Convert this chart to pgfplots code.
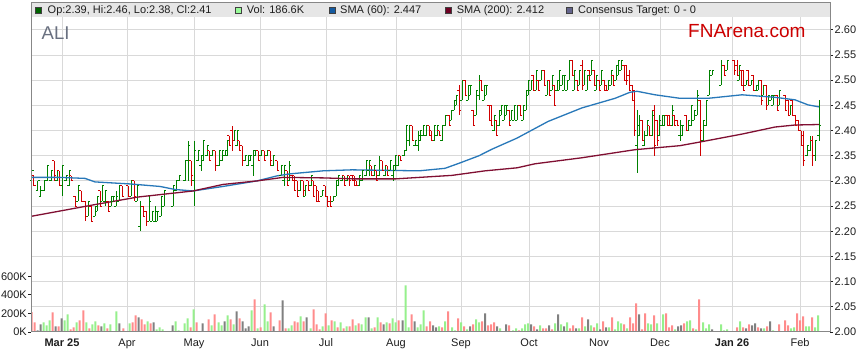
\documentclass[border=0pt]{standalone}
\usepackage{pgfplots}
\usepackage{pgfplotstable}
\pgfplotsset{compat=1.18}
\usepackage{fontspec}
\setmainfont{Liberation Sans}
\definecolor{upG}{RGB}{0,128,0}
\definecolor{dnR}{RGB}{208,0,0}
\definecolor{volG}{RGB}{150,240,140}
\definecolor{volR}{RGB}{255,140,140}
\definecolor{volK}{RGB}{128,128,128}
\definecolor{smaA}{RGB}{40,120,185}
\definecolor{smaB}{RGB}{128,15,50}
\definecolor{gridc}{RGB}{217,217,217}
\definecolor{framec}{RGB}{135,135,135}
\definecolor{bandc}{RGB}{230,230,230}
\definecolor{aliC}{RGB}{105,112,128}
\definecolor{fnred}{RGB}{204,0,0}
\definecolor{txtc}{RGB}{30,30,30}

\pgfdeclareplotmark{ohlcopen}{%
  \pgfpathmoveto{\pgfqpoint{-2pt}{0pt}}%
  \pgfpathlineto{\pgfqpoint{0pt}{0pt}}%
  \pgfusepathqstroke}
\pgfdeclareplotmark{ohlcclose}{%
  \pgfpathmoveto{\pgfqpoint{0pt}{0pt}}%
  \pgfpathlineto{\pgfqpoint{2pt}{0pt}}%
  \pgfusepathqstroke}

\pgfplotstableread{
x o h l c
32 2.30 2.34 2.29 2.32
38 2.28 2.30 2.28 2.30
41 2.27 2.29 2.27 2.28
44 2.28 2.30 2.28 2.30
47 2.30 2.33 2.30 2.33
51 2.30 2.32 2.30 2.32
57 2.30 2.32 2.30 2.32
62 2.29 2.33 2.27 2.33
66 2.30 2.31 2.30 2.31
69 2.29 2.32 2.29 2.32
78 2.26 2.29 2.26 2.29
88 2.23 2.26 2.23 2.26
95 2.23 2.25 2.23 2.25
97 2.24 2.27 2.24 2.27
102 2.26 2.29 2.26 2.29
105 2.26 2.28 2.25 2.28
111 2.25 2.27 2.25 2.27
113 2.26 2.27 2.26 2.27
116 2.25 2.28 2.25 2.27
119 2.26 2.29 2.26 2.29
131 2.27 2.30 2.27 2.30
137 2.26 2.29 2.26 2.29
140 2.21 2.26 2.20 2.25
149 2.22 2.27 2.22 2.26
152 2.22 2.24 2.22 2.24
155 2.22 2.25 2.22 2.24
157 2.22 2.24 2.22 2.24
161 2.23 2.27 2.23 2.27
164 2.25 2.28 2.25 2.28
173 2.25 2.29 2.25 2.29
176 2.28 2.30 2.28 2.30
179 2.30 2.31 2.30 2.31
185 2.30 2.34 2.30 2.34
188 2.34 2.38 2.30 2.37
194 2.30 2.38 2.25 2.36
198 2.34 2.36 2.34 2.36
201 2.33 2.35 2.32 2.35
203 2.34 2.38 2.34 2.38
207 2.35 2.37 2.35 2.37
212 2.35 2.36 2.35 2.36
219 2.33 2.36 2.33 2.36
222 2.34 2.36 2.34 2.36
225 2.35 2.36 2.35 2.36
227 2.35 2.38 2.35 2.38
234 2.38 2.40 2.38 2.40
237 2.37 2.40 2.37 2.40
245 2.34 2.35 2.34 2.35
248 2.33 2.35 2.33 2.35
250 2.34 2.35 2.34 2.35
253 2.33 2.36 2.31 2.36
255 2.35 2.36 2.35 2.36
261 2.35 2.36 2.35 2.36
267 2.35 2.36 2.35 2.36
273 2.33 2.35 2.33 2.35
281 2.31 2.33 2.31 2.33
284 2.30 2.33 2.29 2.33
289 2.30 2.34 2.30 2.33
300 2.28 2.30 2.28 2.30
305 2.27 2.29 2.27 2.29
311 2.29 2.31 2.29 2.31
322 2.27 2.28 2.27 2.28
333 2.26 2.27 2.26 2.27
336 2.27 2.30 2.27 2.30
338 2.29 2.31 2.29 2.31
342 2.30 2.31 2.30 2.31
347 2.30 2.31 2.30 2.31
359 2.29 2.31 2.29 2.31
362 2.30 2.32 2.30 2.32
366 2.31 2.34 2.31 2.34
369 2.32 2.34 2.31 2.34
374 2.31 2.33 2.31 2.33
379 2.31 2.35 2.31 2.34
385 2.31 2.33 2.31 2.33
390 2.32 2.34 2.32 2.34
393 2.31 2.33 2.30 2.33
395 2.32 2.35 2.32 2.35
398 2.33 2.35 2.33 2.35
404 2.35 2.36 2.35 2.36
406 2.36 2.41 2.36 2.41
409 2.38 2.41 2.37 2.41
415 2.37 2.38 2.37 2.38
418 2.37 2.40 2.36 2.39
420 2.38 2.40 2.38 2.40
423 2.39 2.41 2.39 2.41
426 2.39 2.41 2.39 2.41
434 2.38 2.41 2.38 2.41
437 2.39 2.41 2.39 2.41
442 2.38 2.41 2.38 2.41
445 2.41 2.43 2.41 2.43
451 2.42 2.44 2.42 2.44
454 2.44 2.46 2.44 2.46
456 2.45 2.47 2.45 2.47
462 2.46 2.50 2.46 2.50
468 2.46 2.49 2.46 2.49
470 2.47 2.49 2.47 2.49
476 2.43 2.48 2.43 2.48
479 2.47 2.51 2.46 2.50
484 2.46 2.49 2.46 2.49
486 2.47 2.49 2.47 2.49
494 2.40 2.43 2.40 2.43
499 2.41 2.44 2.41 2.44
501 2.43 2.45 2.43 2.45
504 2.42 2.45 2.42 2.45
506 2.43 2.45 2.43 2.45
511 2.42 2.44 2.42 2.44
514 2.42 2.45 2.42 2.45
517 2.42 2.45 2.42 2.45
523 2.42 2.45 2.42 2.45
526 2.44 2.48 2.44 2.48
528 2.47 2.50 2.47 2.50
531 2.48 2.50 2.48 2.50
536 2.48 2.52 2.48 2.52
541 2.50 2.52 2.50 2.52
547 2.47 2.50 2.47 2.50
552 2.48 2.51 2.48 2.51
557 2.48 2.50 2.48 2.50
559 2.48 2.52 2.48 2.52
562 2.49 2.51 2.49 2.51
564 2.48 2.51 2.48 2.51
567 2.48 2.50 2.48 2.50
569 2.50 2.54 2.50 2.54
574 2.48 2.52 2.48 2.52
579 2.49 2.52 2.49 2.52
584 2.49 2.52 2.49 2.52
587 2.48 2.51 2.48 2.51
591 2.51 2.54 2.51 2.54
596 2.48 2.51 2.48 2.51
601 2.49 2.52 2.49 2.52
608 2.48 2.50 2.48 2.50
611 2.49 2.52 2.49 2.52
616 2.50 2.53 2.50 2.53
618 2.51 2.54 2.51 2.54
621 2.52 2.54 2.52 2.54
637 2.37 2.44 2.315 2.41
639 2.39 2.43 2.39 2.42
644 2.37 2.40 2.37 2.39
647 2.39 2.42 2.39 2.42
652 2.39 2.44 2.39 2.43
659 2.39 2.43 2.39 2.42
662 2.41 2.43 2.41 2.43
664 2.41 2.43 2.41 2.43
672 2.41 2.45 2.41 2.44
680 2.39 2.42 2.38 2.41
682 2.39 2.41 2.39 2.41
688 2.40 2.42 2.40 2.42
691 2.41 2.45 2.41 2.45
694 2.42 2.44 2.42 2.44
697 2.43 2.48 2.43 2.47
703 2.38 2.42 2.38 2.42
706 2.41 2.46 2.41 2.46
709 2.47 2.52 2.47 2.52
712 2.51 2.52 2.51 2.52
721 2.49 2.54 2.49 2.53
727 2.52 2.54 2.52 2.54
739 2.50 2.53 2.50 2.53
746 2.49 2.50 2.49 2.50
751 2.49 2.50 2.49 2.50
756 2.48 2.49 2.48 2.49
758 2.48 2.50 2.48 2.50
763 2.47 2.49 2.47 2.49
768 2.45 2.47 2.45 2.47
771 2.46 2.47 2.46 2.47
773 2.45 2.47 2.45 2.47
779 2.45 2.48 2.45 2.48
790 2.43 2.45 2.43 2.45
807 2.35 2.37 2.35 2.37
810 2.36 2.39 2.36 2.38
815 2.35 2.38 2.34 2.38
819 2.39 2.46 2.38 2.41
}\upbars

\pgfplotstableread{
x o h l c
34 2.31 2.31 2.29 2.29
54 2.34 2.34 2.30 2.31
59 2.32 2.32 2.29 2.29
71 2.31 2.31 2.30 2.30
75 2.27 2.27 2.25 2.25
81 2.28 2.28 2.26 2.26
85 2.26 2.26 2.22 2.23
91 2.25 2.25 2.22 2.22
100 2.28 2.28 2.25 2.25
108 2.26 2.26 2.24 2.24
122 2.29 2.29 2.27 2.27
128 2.29 2.29 2.27 2.27
134 2.30 2.30 2.26 2.27
143 2.25 2.25 2.23 2.23
146 2.24 2.24 2.21 2.22
191 2.34 2.34 2.29 2.31
209 2.36 2.36 2.34 2.34
215 2.36 2.36 2.32 2.33
229 2.39 2.39 2.37 2.37
232 2.40 2.41 2.36 2.38
239 2.38 2.38 2.36 2.36
242 2.37 2.37 2.33 2.34
258 2.36 2.36 2.34 2.34
264 2.36 2.36 2.34 2.34
270 2.36 2.36 2.33 2.34
277 2.34 2.34 2.32 2.32
287 2.32 2.32 2.29 2.29
292 2.31 2.31 2.30 2.30
294 2.31 2.31 2.28 2.28
297 2.30 2.30 2.27 2.27
303 2.30 2.30 2.27 2.28
308 2.30 2.30 2.28 2.28
313 2.30 2.30 2.27 2.27
316 2.29 2.29 2.26 2.26
318 2.28 2.28 2.26 2.26
325 2.29 2.29 2.27 2.27
327 2.27 2.27 2.25 2.25
330 2.26 2.27 2.25 2.25
344 2.31 2.31 2.29 2.29
349 2.31 2.31 2.29 2.30
352 2.31 2.31 2.30 2.30
354 2.31 2.31 2.29 2.29
356 2.30 2.30 2.29 2.29
371 2.33 2.33 2.31 2.31
376 2.32 2.32 2.30 2.30
382 2.34 2.34 2.32 2.32
387 2.33 2.33 2.31 2.31
400 2.35 2.35 2.34 2.34
412 2.41 2.41 2.38 2.38
429 2.41 2.41 2.39 2.39
431 2.40 2.40 2.38 2.38
439 2.40 2.40 2.39 2.39
449 2.43 2.43 2.41 2.41
459 2.48 2.49 2.43 2.44
465 2.50 2.50 2.47 2.47
473 2.44 2.44 2.41 2.41
481 2.50 2.50 2.48 2.48
489 2.45 2.45 2.42 2.42
491 2.45 2.45 2.41 2.41
496 2.42 2.42 2.39 2.39
509 2.44 2.44 2.41 2.41
520 2.45 2.45 2.43 2.43
533 2.51 2.51 2.48 2.48
538 2.50 2.50 2.48 2.48
544 2.52 2.52 2.49 2.49
549 2.50 2.50 2.47 2.47
554 2.49 2.49 2.45 2.45
572 2.54 2.54 2.51 2.51
577 2.50 2.50 2.48 2.48
582 2.53 2.54 2.48 2.49
589 2.52 2.52 2.50 2.50
594 2.52 2.52 2.49 2.49
599 2.50 2.50 2.48 2.48
604 2.50 2.50 2.48 2.48
606 2.49 2.49 2.48 2.48
613 2.51 2.51 2.49 2.49
624 2.53 2.53 2.50 2.50
626 2.53 2.53 2.49 2.50
629 2.51 2.52 2.48 2.48
632 2.49 2.49 2.46 2.46
634 2.48 2.48 2.39 2.40
642 2.42 2.42 2.38 2.38
649 2.41 2.41 2.39 2.39
654 2.44 2.45 2.35 2.37
657 2.42 2.42 2.37 2.38
667 2.43 2.43 2.41 2.41
669 2.43 2.43 2.41 2.41
674 2.43 2.43 2.41 2.41
677 2.42 2.42 2.41 2.41
686 2.43 2.43 2.40 2.40
700 2.46 2.46 2.35 2.40
724 2.53 2.53 2.51 2.51
734 2.54 2.54 2.51 2.52
737 2.53 2.54 2.51 2.51
741 2.52 2.52 2.49 2.49
743 2.52 2.52 2.48 2.48
748 2.52 2.52 2.49 2.49
753 2.51 2.51 2.48 2.48
761 2.50 2.50 2.45 2.46
766 2.49 2.49 2.44 2.45
777 2.47 2.47 2.44 2.44
785 2.47 2.47 2.44 2.44
788 2.46 2.46 2.43 2.43
792 2.46 2.46 2.43 2.43
795 2.43 2.43 2.41 2.41
798 2.42 2.42 2.40 2.40
801 2.40 2.40 2.37 2.37
803 2.39 2.40 2.33 2.34
812 2.38 2.39 2.33 2.35
}\dnbars

\pgfplotstableread{
x v
43.7 104
46.7 72
49.7 126
64.7 126
67.7 190
76.7 104
86.3 104
92.3 83
95.3 115
104.3 93
110.3 83
113.3 7
116.3 222
129.7 93
147.7 115
156.7 29
159.7 50
162.7 29
175.7 115
178.7 18
184.7 93
187.7 147
193.7 244
199.7 7
205.7 7
211.7 72
218.7 104
221.7 72
227.7 180
233.7 83
251.7 233
257.7 40
264.7 298
267.7 115
288.7 40
291.7 72
300.7 169
310.7 40
322.7 61
328.7 72
334.7 115
340.7 104
346.7 61
355.7 72
361.7 83
365.7 158
371.7 40
377.7 158
386.7 104
392.7 147
395.7 104
405.7 502
408.7 50
417.7 50
420.7 83
423.7 233
439 61
445 115
452 50
455 18
461 104
467 29
476 136
479 104
500 40
513 18
516 40
522 40
525 83
528 93
540 72
555 93
561 83
567 104
579 40
585 61
591 72
597 93
609 50
615 29
618 115
621 93
627 40
648 93
651 83
657 93
663 190
675 29
687 115
690 126
696 29
703 104
706 40
709 83
721 83
724 18
727 29
740 115
764 40
773 18
776 7
791 40
794 50
806 61
809 61
815 50
818 180
}\volGt

\pgfplotstableread{
x v
31.7 215
34.7 104
52.7 212
58.7 61
70.7 29
73.7 50
79.7 126
83.3 233
89.3 40
98.3 72
107.3 40
123.3 40
132.7 104
135.7 180
141.7 136
144.7 83
150.7 93
190.7 50
196.7 104
208.7 136
214.7 190
230.7 136
239.7 147
254.7 352
260.7 50
270.7 212
279.7 126
285.7 40
294.7 115
297.7 104
303.7 115
313.7 244
316.7 83
319.7 29
325.7 201
331.7 126
337.7 50
343.7 40
349.7 61
352.7 136
358.7 93
374.7 50
380.7 104
389.7 93
398.7 126
411.7 190
426.7 61
430 115
442 50
448 222
458 147
464 61
473 83
482 115
488 72
491 83
494 104
509 72
519 18
534 61
543 40
546 40
552 29
570 40
573 72
582 158
594 50
603 115
612 158
624 83
630 158
633 93
636 309
642 29
645 201
654 180
666 201
669 50
672 72
684 93
693 40
699 352
737 50
743 50
749 83
758 50
767 61
779 83
785 126
788 72
797 201
800 126
803 169
812 158
}\volRt

\pgfplotstableread{
x v
37.7 18
40.7 83
55.7 61
61.7 147
101.3 61
119.3 93
138.7 158
153.7 104
172.7 72
202.7 93
224.7 115
236.7 222
242.7 115
245.7 40
248.7 61
273.7 61
282.7 341
306.7 158
368.7 158
383.7 83
402.7 126
414.7 115
433 72
436 50
470 61
485 201
497 61
503 7
506 83
531 83
537 29
549 72
558 190
564 61
576 40
588 136
600 29
606 50
639 190
660 7
678 61
681 72
712 29
734 7
746 40
752 72
755 93
761 40
770 115
}\volKt

\begin{document}
\begin{tikzpicture}
\path[use as bounding box] (0pt,0pt) rectangle (859pt,363pt);
\fill[white] (0pt,0pt) rectangle (859pt,363pt);

\begin{axis}[
  scale only axis, width=799pt, height=315pt,
  at={(31pt,31pt)}, anchor=south west,
  xmin=31, xmax=830, ymin=2.00, ymax=2.6255,
  axis line style={draw=none},
  xtick={62,127,194,260,326,396,461,529,599,660,732,800},
  xticklabels={\textbf{Mar 25},Apr,May,Jun,Jul,Aug,Sep,Oct,Nov,Dec,\textbf{Jan 26},Feb},
  xtick style={draw=none},
  ytick={2.00,2.05,2.10,2.15,2.20,2.25,2.30,2.35,2.40,2.45,2.50,2.55,2.60},
  yticklabels={2.00,2.05,2.10,2.15,2.20,2.25,2.30,2.35,2.40,2.45,2.50,2.55,2.60},
  ytick pos=right, yticklabel pos=right,
  tick align=outside, major tick length=3pt,
  ytick style={txtc, line width=0.8pt},
  grid=major, grid style={gridc, line width=1pt},
  tick label style={font=\fontsize{11}{13}\selectfont, text=txtc},
  yticklabel style={inner sep=1.5pt},
  clip=true,
]
\addplot[only marks, mark=ohlcopen, upG, line width=1pt,
  error bars/.cd, y dir=both, y explicit, error mark=none,
  error bar style={upG, line width=1pt}]
  table[x=x, y=o, y error plus expr=\thisrow{h}-\thisrow{o}, y error minus expr=\thisrow{o}-\thisrow{l}] {\upbars};
\addplot[only marks, mark=ohlcclose, upG, line width=1pt] table[x=x, y=c] {\upbars};
\addplot[only marks, mark=ohlcopen, dnR, line width=1pt,
  error bars/.cd, y dir=both, y explicit, error mark=none,
  error bar style={dnR, line width=1pt}]
  table[x=x, y=o, y error plus expr=\thisrow{h}-\thisrow{o}, y error minus expr=\thisrow{o}-\thisrow{l}] {\dnbars};
\addplot[only marks, mark=ohlcclose, dnR, line width=1pt] table[x=x, y=c] {\dnbars};

\addplot[smaA, line width=1.3pt, no marks] coordinates {
(32,2.307) (60,2.307) (85,2.305) (95,2.298) (130,2.294) (160,2.289) (175,2.283) (193,2.280)
(223,2.289) (257,2.300) (277,2.310) (290,2.314) (323,2.320) (352,2.322) (419,2.320) (445,2.325)
(459,2.335) (479,2.350) (492,2.363) (517,2.385) (548,2.418) (582,2.445) (615,2.464) (630,2.476)
(637,2.478) (655,2.471) (680,2.464) (708,2.464) (742,2.471) (775,2.466) (795,2.461) (808,2.451) (819,2.447)};
\addplot[smaB, line width=1.3pt, no marks] coordinates {
(32,2.230) (95,2.253) (138,2.268) (193,2.280) (223,2.293) (257,2.300) (283,2.307) (323,2.306)
(355,2.304) (395,2.304) (452,2.311) (485,2.320) (517,2.326) (535,2.334) (582,2.346) (635,2.362)
(680,2.370) (702,2.378) (742,2.393) (775,2.407) (795,2.411) (819,2.412)};
\end{axis}

\begin{axis}[
  scale only axis, width=799pt, height=315pt,
  at={(31pt,31pt)}, anchor=south west,
  xmin=31, xmax=830, ymin=0, ymax=3390,
  axis line style={draw=none},
  xtick=\empty,
  ytick={0,200,400,600}, yticklabels={0K,200K,400K,600K},
  ytick pos=left, yticklabel pos=left,
  tick align=outside, major tick length=3pt,
  ytick style={txtc, line width=0.8pt},
  tick label style={font=\fontsize{11}{13}\selectfont, text=txtc},
  yticklabel style={inner sep=1pt},
  ybar, bar width=2pt,
]
\addplot[fill=volG, draw=none, bar shift=0pt] table[x=x, y=v] {\volGt};
\addplot[fill=volR, draw=none, bar shift=0pt] table[x=x, y=v] {\volRt};
\addplot[fill=volK, draw=none, bar shift=0pt] table[x=x, y=v] {\volKt};
\end{axis}

\fill[bandc] (31pt,346pt) rectangle (830pt,360pt);
\draw[framec, line width=1pt] (31pt,31pt) rectangle (830pt,360pt);

\begin{scope}[every node/.style={anchor=base west, inner sep=0pt, font=\fontsize{11}{13}\selectfont, text=txtc}]
\filldraw[fill={rgb,255:red,0;green,100;blue,0}, draw=black!75, line width=0.6pt] (35pt,349.5pt) rectangle (41pt,355.5pt);
\node at (47.5pt,349pt) {Op:2.39, Hi:2.46, Lo:2.38, Cl:2.41};
\filldraw[fill={rgb,255:red,152;green,251;blue,152}, draw=black!75, line width=0.6pt] (235.7pt,349.5pt) rectangle (241.7pt,355.5pt);
\node at (246.7pt,349pt) {Vol: 186.6K};
\filldraw[fill={rgb,255:red,20;green,90;blue,160}, draw=black!75, line width=0.6pt] (329pt,349.5pt) rectangle (335pt,355.5pt);
\node at (340pt,349pt) {SMA (60): 2.447};
\filldraw[fill={rgb,255:red,110;green,0;blue,35}, draw=black!75, line width=0.6pt] (445pt,349.5pt) rectangle (451pt,355.5pt);
\node at (456.7pt,349pt) {SMA (200): 2.412};
\filldraw[fill={rgb,255:red,100;green,100;blue,140}, draw=black!75, line width=0.6pt] (566pt,349.5pt) rectangle (572pt,355.5pt);
\node at (578pt,349pt) {Consensus Target: 0 - 0};
\end{scope}

\node[anchor=base west, inner sep=0pt, font=\fontsize{18.5}{20}\selectfont, text=aliC] at (41.5pt,323.7pt) {ALI};
\node[anchor=base west, inner sep=0pt, font=\fontsize{19}{21}\selectfont, text=fnred] at (688pt,325.7pt) {FNArena.com};
\end{tikzpicture}
\end{document}
